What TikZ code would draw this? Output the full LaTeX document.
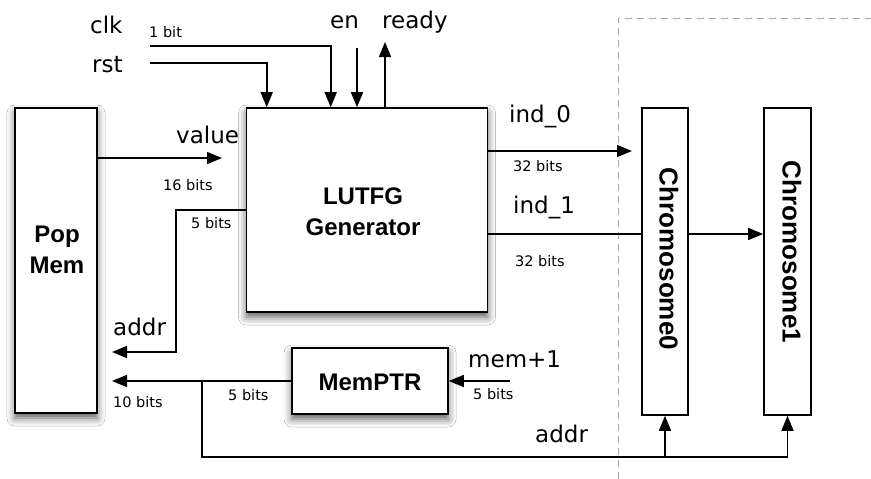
\documentclass[tikz,border=0pt]{standalone}
\usepackage{fontspec}
\setmainfont{DejaVu Sans}
\newfontfamily\blockfont{Liberation Sans}
\usetikzlibrary{arrows.meta,shadows.blur}

\begin{document}
\begin{tikzpicture}[x=1pt,y=-1pt,
  wire/.style={line width=1.6pt},
  arr/.style={wire,-{Triangle[length=15pt,width=12pt]}},
  blockbox/.style={draw, line width=1.6pt, fill=white, inner sep=0pt,
    blur shadow={shadow xshift=0pt, shadow yshift=-5pt, shadow blur radius=8pt, shadow opacity=65}},
  chrombox/.style={draw, line width=1.6pt, fill=white, inner sep=0pt},
  big/.style={font=\fontsize{23}{26}\selectfont, inner sep=0pt, anchor=base west},
  small/.style={font=\fontsize{14.5}{16}\selectfont, inner sep=0pt, anchor=base west},
  bold/.style={font=\blockfont\bfseries\fontsize{24}{31}\selectfont, align=center, inner sep=0pt},
  chromtext/.style={font=\blockfont\bfseries\fontsize{26}{30}\selectfont, inner sep=0pt, rotate=-90}]

% canvas
\fill[white] (0,0) rectangle (871,479);
\useasboundingbox (0,0) rectangle (871,479);

% dashed partition
\draw[gray!70, line width=1pt, dash pattern=on 7pt off 5pt] (618,479) -- (618,18) -- (871,18);

% blocks
\node[blockbox, minimum width=82pt, minimum height=305pt] (popmem) at (56,260.5) {};
\node[bold] (popmemtext) at (57,250) {Pop\\Mem};
\node[blockbox, minimum width=241pt, minimum height=204pt] (lutfg) at (367,210) {};
\node[bold] (lutfgtext) at (363,212) {LUTFG\\Generator};
\node[blockbox, minimum width=156pt, minimum height=66pt] (memptr) at (370,381) {};
\node[bold] (memptrtext) at (370,382) {MemPTR};
\node[chrombox, minimum width=46pt, minimum height=307pt] (chrom0) at (665,261.5) {};
\node[chromtext] (chrom0text) at (669,259) {Chromosome0};
\node[chrombox, minimum width=47pt, minimum height=307pt] (chrom1) at (787.5,261.5) {};
\node[chromtext] (chrom1text) at (792,252) {Chromosome1};

% control inputs / outputs
\coordinate (clkin) at (150,46);
\coordinate (rstin) at (150,63);
\coordinate (enin) at (357,48);
\coordinate (readyout) at (385,42);
\draw[arr] (clkin) -| ([xshift=85pt]lutfg.north west);
\draw[arr] (rstin) -| ([xshift=21pt]lutfg.north west);
\draw[arr] (enin) -- (enin |- lutfg.north);
\draw[arr] (readyout |- lutfg.north) -- (readyout);

% population memory interface
\coordinate (valueend) at (222,158);
\draw[arr] (valueend -| popmem.east) -- (valueend);
\coordinate (addrbend) at (176,352);
\coordinate (addrend) at (112,352);
\draw[arr] (lutfg.west) -| (addrbend) -- (addrend);
\coordinate (addr2end) at (112,381);
\draw[arr] (memptr.west) -- (addr2end);
\coordinate (memin) at (510,381);
\draw[arr] (memin) -- (memptr.east);

% address bus to chromosomes
\coordinate (tap) at (202,381);
\coordinate (busleft) at (202,457);
\draw[arr] (tap) -- (busleft) -| (chrom1.south);
\draw[arr] (busleft -| chrom0.south) -- (chrom0.south);

% individuals
\coordinate (ind0end) at (632,151);
\draw[arr] (ind0end -| lutfg.east) -- (ind0end);
\coordinate (ind1) at (0,234);
\draw[wire] (ind1 -| lutfg.east) -- (ind1 -| chrom0.west);
\draw[arr] (ind1 -| chrom0.east) -- (ind1 -| chrom1.west);

% labels
\node[big] (clklbl) at (90,33) {clk};
\node[big] (rstlbl) at (92,72) {rst};
\node[small] (bitlbl) at (149,37) {1 bit};
\node[big] (enlbl) at (330,28) {en};
\node[big] (readylbl) at (382,28) {ready};
\node[big] (valuelbl) at (176,143) {value};
\node[small] (vbits) at (163,190) {16 bits};
\node[small] (abits) at (191,228) {5 bits};
\node[big] (addrlbl) at (113,335) {addr};
\node[small] (tenbits) at (113,407) {10 bits};
\node[small] (pbits) at (228,400) {5 bits};
\node[big] (memlbl) at (468,367) {mem+1};
\node[small] (mbits) at (473,399) {5 bits};
\node[big] (addrlbl2) at (535,442) {addr};
\node[big] (ind0lbl) at (509,122) {ind\_0};
\node[small] (i0bits) at (513,171) {32 bits};
\node[big] (ind1lbl) at (513,213) {ind\_1};
\node[small] (i1bits) at (515,266) {32 bits};
\end{tikzpicture}
\end{document}
